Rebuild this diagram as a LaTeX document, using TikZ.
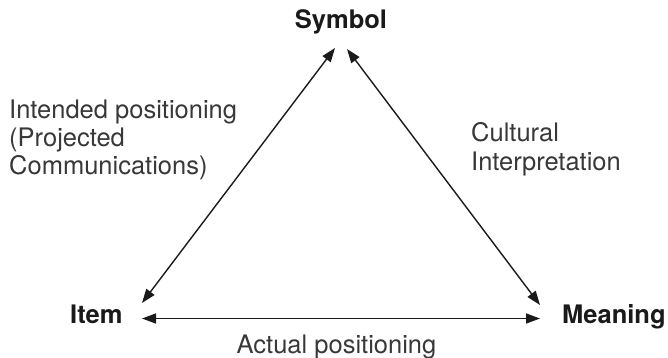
\documentclass[tikz,border=0pt]{standalone}
\usepackage{fontspec}
\setmainfont{TeX Gyre Heros}
\usetikzlibrary{arrows.meta}
\definecolor{inkdark}{HTML}{1A1A1A}
\definecolor{inknote}{HTML}{383838}
\begin{document}
\begin{tikzpicture}[x=1pt,y=-1pt,
  vertex/.style={inner sep=0pt,text=inkdark,font=\fontsize{25.5}{28.5}\selectfont\bfseries},
  note/.style={inner sep=0pt,text=inknote,align=left,font=\fontsize{25.5}{28.4}\selectfont},
  link/.style={line width=1.4pt,draw=inkdark,
    {Triangle[length=14pt,width=10pt]}-{Triangle[length=14pt,width=10pt]}}]
\useasboundingbox (0,0) rectangle (668,358);

% corner labels
\node[vertex,anchor=base] (sym) at (341,29) {Symbol};
\node[vertex,anchor=base west] (item) at (70,323) {Item};
\node[vertex,anchor=base west] (mean) at (562,323) {Meaning};

% arrow end points next to the corner labels
\coordinate (symL) at (335,48);
\coordinate (symR) at (347,49);
\coordinate (itemD) at (142,303);
\coordinate (itemH) at (142,318.5);
\coordinate (meanD) at (540,305);
\coordinate (meanH) at (540,318.5);

% sides of the triangle
\draw[link] (itemD) -- (symL);
\draw[link] (symR) -- (meanD);
\draw[link] (itemH) -- (meanH);

% side labels (the base anchor of a multi-line note sits on its last line)
\node[note,anchor=base west] (intended) at (9,175)
  {Intended positioning\\(Projected\\Communications)};
\node[note,anchor=base west] (cultural) at (471,170)
  {Cultural\\Interpretation};
\node[note,anchor=base] (actual) at (336.5,353) {Actual positioning};
\end{tikzpicture}
\end{document}
